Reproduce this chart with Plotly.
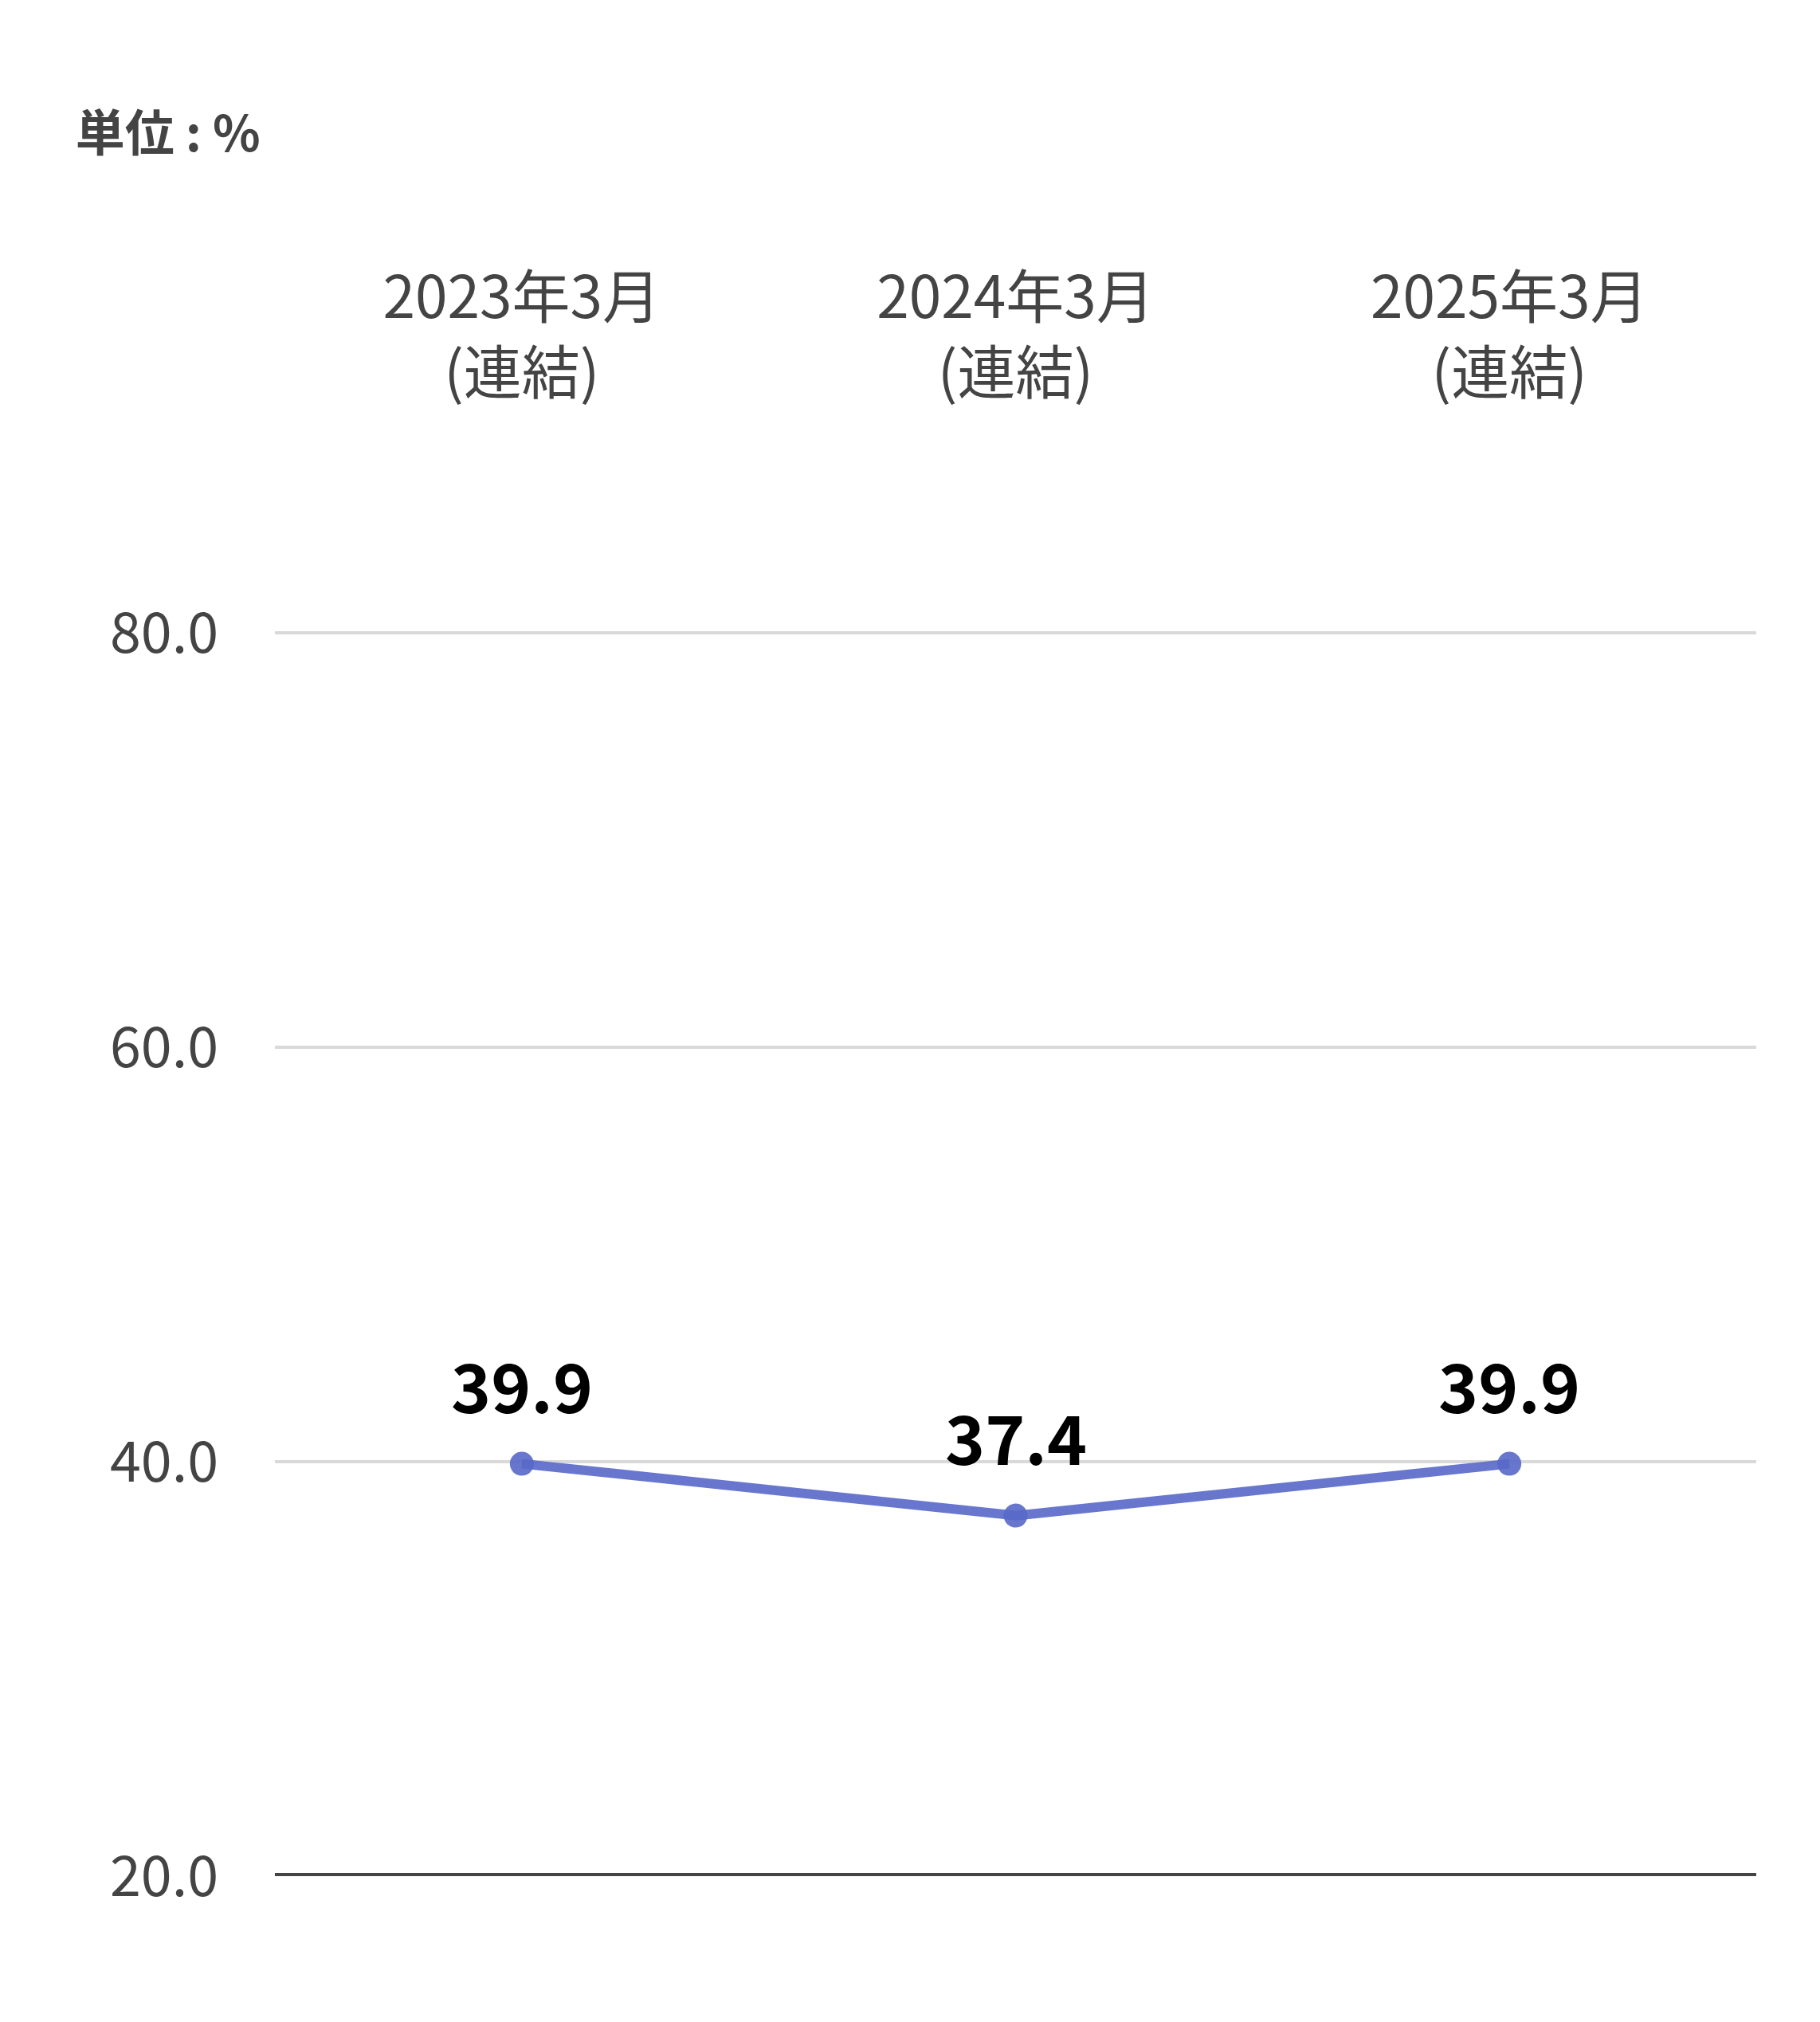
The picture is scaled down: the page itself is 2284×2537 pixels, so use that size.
import plotly.graph_objects as go

# data
categories = ["2023年3月<br>(連結)", "2024年3月<br>(連結)", "2025年3月<br>(連結)"]
values = [39.9, 37.4, 39.9]
value_labels = ["39.9", "37.4", "39.9"]
y_ticks = [20, 40, 60, 80]
y_tick_labels = ["20.0", "40.0", "60.0", "80.0"]

FONT = "Noto Sans CJK JP"
GREY = "#444444"
LINE_COLOR = "rgba(88,104,200,0.9)"

fig = go.Figure()
fig.add_trace(go.Scatter(
    x=categories,
    y=values,
    mode="lines+markers",
    line=dict(color=LINE_COLOR, width=12),
    marker=dict(color=LINE_COLOR, size=30),
    cliponaxis=False,
    hoverinfo="skip",
    showlegend=False,
))

# value labels above each point
for cat, val, lab in zip(categories, values, value_labels):
    fig.add_annotation(x=cat, y=val, text=lab, showarrow=False,
                       yanchor="middle", yshift=101,
                       font=dict(family=FONT, size=85, color="#000000", weight="bold"))

# baseline at the bottom of the value axis
fig.add_shape(type="line", xref="paper", yref="y", x0=0, x1=1,
              y0=y_ticks[0], y1=y_ticks[0], line=dict(color=GREY, width=8))

fig.update_layout(
    width=2284,
    height=2537,
    margin=dict(l=337, r=88, t=552, b=191),
    paper_bgcolor="white",
    plot_bgcolor="white",
    font=dict(family=FONT, color=GREY),
    title=dict(text="単位 : %", x=0.038, xanchor="left", y=0.937, yanchor="middle",
               font=dict(family=FONT, size=62, color=GREY, weight="bold")),
    xaxis=dict(
        side="top",
        type="category",
        range=[-0.5, 2.5],
        showgrid=False,
        showline=False,
        zeroline=False,
        ticks="",
        ticklabelstandoff=50,
        tickfont=dict(family=FONT, size=73, color=GREY),
    ),
    yaxis=dict(
        range=[20, 89],
        tickvals=y_ticks,
        ticktext=y_tick_labels,
        showgrid=True,
        gridcolor="#d9d9d9",
        gridwidth=4,
        zeroline=False,
        showline=False,
        ticks="",
        ticklabelstandoff=70,
        tickfont=dict(family=FONT, size=70, color=GREY),
    ),
)

fig.write_html("out.html")
